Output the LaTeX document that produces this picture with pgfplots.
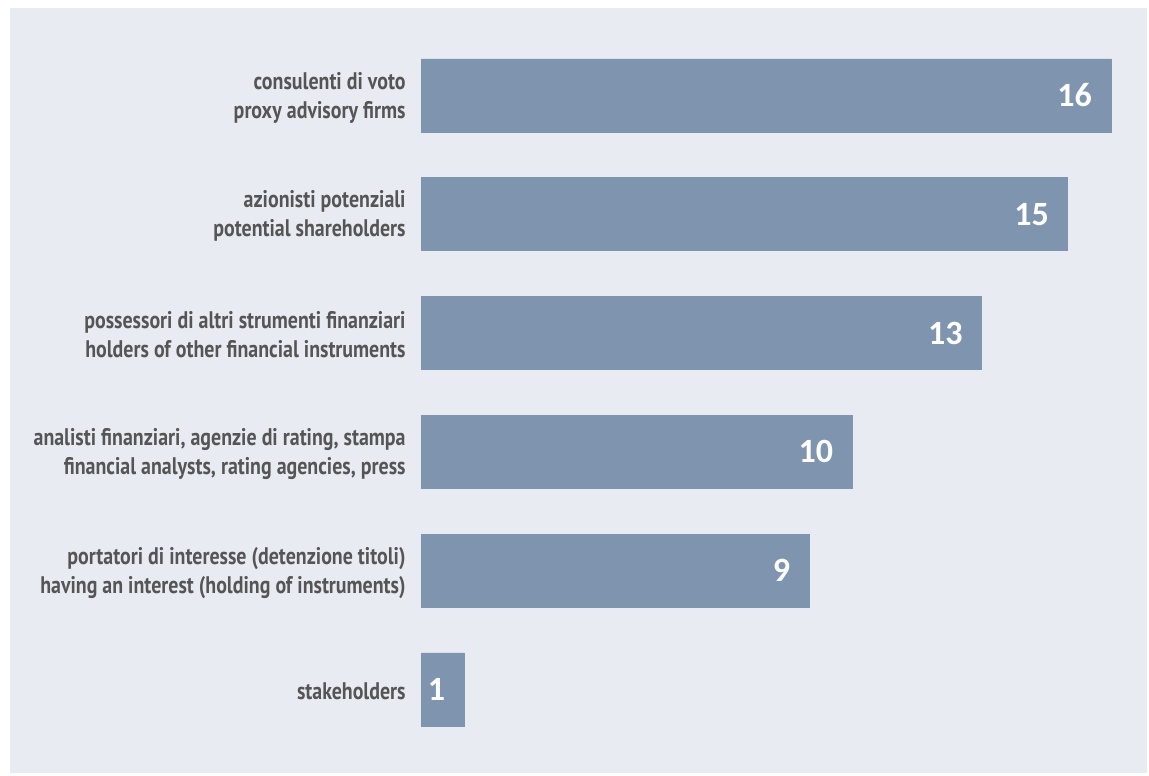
\documentclass[border=0pt]{standalone}
\usepackage{pgfplots}
\pgfplotsset{compat=1.18}
\usepackage{fontspec}
\setmainfont{PT Sans}
\newfontfamily\labfont[FakeStretch=0.83]{PT Sans}
\newfontfamily\valfont{Carlito}
\definecolor{bgcol}{RGB}{232,236,242}
\definecolor{barcol}{RGB}{127,148,175}
\definecolor{labgray}{RGB}{85,85,85}
\begin{document}
\begin{tikzpicture}
\fill[white] (0pt,0pt) rectangle (574.5pt,387.5pt);
\fill[bgcol] (5pt,1pt) rectangle (573.5pt,383.5pt);
\begin{axis}[
  at={(210.5pt,13.05pt)}, anchor=south west,
  scale only axis, width=345pt, height=356.4pt,
  xmin=0, xmax=16, ymin=-0.5, ymax=5.5,
  xbar, bar width=36.5pt,
  axis line style={draw=none},
  xtick=\empty,
  ytick={0,1,2,3,4,5},
  yticklabels={{stakeholders},
    {portatori di interesse (detenzione titoli)\\having an interest (holding of instruments)},
    {analisti finanziari, agenzie di rating, stampa\\financial analysts, rating agencies, press},
    {possessori di altri strumenti finanziari\\holders of other financial instruments},
    {azionisti potenziali\\potential shareholders},
    {consulenti di voto\\proxy advisory firms}},
  major tick length=0pt,
  yticklabel style={align=right, font=\labfont\bfseries\fontsize{12}{14.5}\selectfont, text=labgray, inner sep=0pt, xshift=-7.5pt, yshift=-1pt},
  /pgf/number format/assume math mode=true,
  nodes near coords,
  nodes near coords style={anchor=east, text=white, font=\valfont\bfseries\fontsize{17}{17}\selectfont, xshift=-6pt},
  clip=false,
]
\addplot[fill=barcol, draw=barcol] coordinates {(1,0) (9,1) (10,2) (13,3) (15,4) (16,5)};
\end{axis}
\end{tikzpicture}
\end{document}
